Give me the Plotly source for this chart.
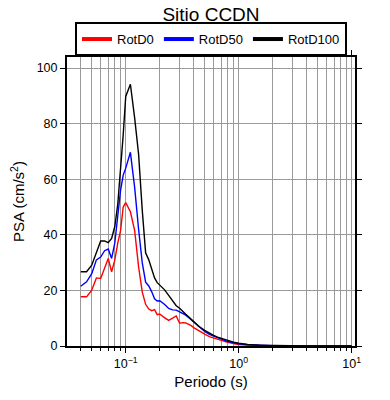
import plotly.graph_objects as go

periods = [0.04, 0.045, 0.05, 0.055, 0.06, 0.065, 0.07, 0.075, 0.08, 0.085, 0.09, 0.095,
           0.1, 0.11, 0.12, 0.13, 0.14, 0.15, 0.16, 0.17, 0.18, 0.19, 0.2, 0.22, 0.24,
           0.26, 0.28, 0.3, 0.32, 0.34, 0.36, 0.38, 0.4, 0.44, 0.5, 0.55, 0.6, 0.65,
           0.7, 0.75, 0.8, 0.9, 1.0, 1.2, 1.5, 2.0, 3.0, 4.0, 5.0, 7.5, 10.0]

rotd0 = [17.7, 17.7, 20.1, 24.5, 24.3, 28.3, 31.5, 26.7, 30.9, 37.0, 41.5, 50.0,
         51.6, 48.3, 41.5, 28.5, 19.5, 15.0, 13.3, 12.7, 13.1, 11.3, 11.5, 10.2, 9.2,
         10.0, 10.8, 8.2, 8.4, 8.3, 7.9, 7.3, 6.6, 5.5, 4.3, 3.4, 2.9, 2.4,
         2.0, 1.6, 1.3, 0.9, 0.55, 0.35, 0.2, 0.1, 0.05, 0.03, 0.02, 0.01, 0.005]

rotd50 = [21.5, 23.1, 26.0, 31.0, 32.0, 34.3, 34.9, 31.5, 37.0, 48.0, 56.0, 61.5,
          64.0, 69.7, 57.0, 42.0, 30.0, 23.0, 21.6, 19.5, 17.0, 16.2, 16.3, 15.0, 13.5,
          13.0, 12.9, 12.3, 11.8, 11.1, 10.3, 9.5, 8.6, 7.1, 5.2, 4.2, 3.5, 2.9,
          2.5, 2.0, 1.6, 1.1, 0.8, 0.45, 0.25, 0.12, 0.06, 0.035, 0.025, 0.012, 0.006]

rotd100 = [26.7, 26.7, 29.1, 33.3, 37.8, 37.8, 37.2, 38.7, 43.0, 51.0, 63.0, 76.0,
           89.8, 94.2, 82.0, 69.0, 49.0, 33.5, 31.0, 28.0, 24.5, 22.8, 21.9, 20.3, 18.2,
           16.2, 14.5, 13.6, 12.3, 11.4, 10.5, 9.6, 8.7, 7.2, 5.6, 4.5, 3.8, 3.2,
           2.8, 2.3, 1.9, 1.4, 1.0, 0.55, 0.3, 0.15, 0.07, 0.04, 0.03, 0.015, 0.007]

series_names = ["RotD0", "RotD50", "RotD100"]
series_colors = ["#ff0000", "#0000ff", "#000000"]
series_values = [rotd0, rotd50, rotd100]

x_major = [0.1, 1, 10]
x_major_text = ["10<sup>\u22121</sup>", "10<sup>0</sup>", "10<sup>1</sup>"]
x_minor = [0.04, 0.05, 0.06, 0.07, 0.08, 0.09, 0.2, 0.3, 0.4, 0.5, 0.6, 0.7, 0.8, 0.9,
           2, 3, 4, 5, 6, 7, 8, 9]

FONT = "Liberation Sans, Arial, Helvetica, sans-serif"

fig = go.Figure()
for name, color, vals in zip(series_names, series_colors, series_values):
    fig.add_trace(go.Scatter(x=periods, y=vals, mode="lines", name=name,
                             line=dict(color=color, width=1.4), showlegend=False))
for name, color in zip(series_names, series_colors):
    fig.add_trace(go.Scatter(x=[None], y=[None], mode="lines", name=name,
                             line=dict(color=color, width=4), showlegend=True))

fig.update_layout(
    width=390, height=400,
    margin=dict(l=67, r=35, t=57, b=54, autoexpand=False),
    paper_bgcolor="white", plot_bgcolor="white",
    font=dict(family=FONT, color="black", size=12),
    title=dict(text="Sitio CCDN", x=0.541, xanchor="center", y=0.963, yanchor="middle",
               font=dict(size=19, family=FONT)),
    legend=dict(orientation="h", x=0.5, xanchor="center", y=1.062, yanchor="middle",
                bordercolor="black", borderwidth=2, bgcolor="white",
                font=dict(size=13, family=FONT), itemwidth=30,
                tracegroupgap=0),
)

fig.update_xaxes(
    type="log", range=[-1.52, 1.03],
    tickmode="array", tickvals=x_major, ticktext=x_major_text,
    ticks="outside", ticklen=5, tickwidth=1, tickcolor="black",
    showline=True, linecolor="black", linewidth=2, mirror="allticks",
    showgrid=True, gridcolor="#9a9a9a", gridwidth=0.8,
    minor=dict(tickmode="array", tickvals=x_minor, ticks="outside", ticklen=3,
               tickcolor="black", showgrid=True, gridcolor="#9a9a9a", gridwidth=0.8),
    tickfont=dict(size=12.5),
    title=dict(text="Periodo (s)", font=dict(size=15), standoff=6),
    zeroline=False, automargin=False,
)
fig.update_yaxes(
    range=[0, 104], tickmode="linear", tick0=0, dtick=20,
    ticks="outside", ticklen=5, tickwidth=1, tickcolor="black",
    showline=True, linecolor="black", linewidth=2, mirror="allticks",
    showgrid=True, gridcolor="#9a9a9a", gridwidth=0.8,
    tickfont=dict(size=12.5),
    title=dict(text="PSA (cm/s<sup>2</sup>)", font=dict(size=15), standoff=8),
    zeroline=False, automargin=False,
)

fig.write_html("out.html", config={"displayModeBar": False},
               post_script="document.body.style.margin='0';")
